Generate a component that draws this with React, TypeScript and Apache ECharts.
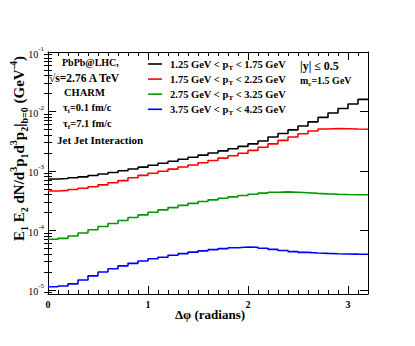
import React, { useEffect, useRef } from "react";
import * as echarts from "echarts";

// ---- data ----
const binEdges = [
  0, 0.1, 0.2, 0.3, 0.4, 0.5, 0.6, 0.7, 0.8, 0.9, 1.0, 1.1, 1.2, 1.3, 1.4, 1.5,
  1.6, 1.7, 1.8, 1.9, 2.0, 2.1, 2.2, 2.3, 2.4, 2.5, 2.6, 2.7, 2.8, 2.9, 3.0, 3.1, 3.2,
];
const ptLow = ["1.25", "1.75", "2.75", "3.75"];
const ptHigh = ["1.75", "2.25", "3.25", "4.25"];
const lineColors = ["#000000", "#ff0000", "#009900", "#0000ff"];

const pt125 = [
  7.31e-4, 7.45e-4, 7.66e-4, 7.94e-4, 8.36e-4, 8.85e-4, 9.42e-4, 1.005e-3, 1.076e-3, 1.156e-3,
  1.245e-3, 1.343e-3, 1.452e-3, 1.57e-3, 1.698e-3, 1.841e-3, 1.995e-3, 2.168e-3, 2.36e-3, 2.582e-3,
  2.851e-3, 3.184e-3, 3.715e-3, 4.246e-3, 4.898e-3, 5.689e-3, 6.683e-3, 7.943e-3, 9.441e-3, 1.122e-2,
  1.334e-2, 1.596e-2,
];
const pt175 = [
  4.58e-4, 4.7e-4, 4.88e-4, 5.11e-4, 5.4e-4, 5.81e-4, 6.31e-4, 6.87e-4, 7.67e-4, 8.41e-4,
  9.12e-4, 9.89e-4, 1.072e-3, 1.161e-3, 1.259e-3, 1.374e-3, 1.5e-3, 1.641e-3, 1.799e-3, 1.986e-3,
  2.213e-3, 2.5e-3, 2.851e-3, 3.258e-3, 3.715e-3, 4.217e-3, 4.699e-3, 5.058e-3, 5.152e-3, 5.129e-3,
  5.058e-3, 5.012e-3,
];
const pt275 = [
  7.08e-5, 7.33e-5, 8.04e-5, 9.02e-5, 1.023e-4, 1.161e-4, 1.303e-4, 1.462e-4, 1.641e-4, 1.82e-4,
  2.018e-4, 2.213e-4, 2.415e-4, 2.63e-4, 2.838e-4, 3.055e-4, 3.258e-4, 3.467e-4, 3.664e-4, 3.864e-4,
  4.055e-4, 4.236e-4, 4.385e-4, 4.446e-4, 4.385e-4, 4.285e-4, 4.188e-4, 4.111e-4, 4.055e-4, 4.009e-4,
  3.981e-4, 3.963e-4,
];
const pt375 = [
  1.125e-5, 1.161e-5, 1.259e-5, 1.462e-5, 1.718e-5, 1.995e-5, 2.265e-5, 2.529e-5, 2.786e-5, 3.055e-5,
  3.327e-5, 3.532e-5, 3.802e-5, 4.055e-5, 4.295e-5, 4.519e-5, 4.732e-5, 4.932e-5, 5.105e-5, 5.236e-5,
  5.212e-5, 5.012e-5, 4.786e-5, 4.571e-5, 4.395e-5, 4.266e-5, 4.169e-5, 4.093e-5, 4.046e-5, 4.009e-5,
  3.981e-5, 3.963e-5,
];
const seriesValues = [pt125, pt175, pt275, pt375];

const xTickValues = [0, 1, 2, 3];
const yTickValues = [1e-5, 1e-4, 1e-3, 1e-2, 1e-1];
const xRange = [0, 3.2];
const yRange = [8.5e-6, 0.1];

// ---- styling ----
const FONT = "'Liberation Serif', 'Times New Roman', serif";

function minorX(): number[] {
  const out: number[] = [];
  for (let k = 1; k < 32; k++) if (k % 10 !== 0) out.push(k / 10);
  return out;
}
function minorY(): number[] {
  const out: number[] = [];
  for (let d = -6; d <= -2; d++)
    for (let m = 2; m <= 9; m++) {
      const v = m * Math.pow(10, d);
      if (v > yRange[0] && v < yRange[1]) out.push(v);
    }
  return out;
}

const sub = (size: number) => ({
  fontSize: size,
  fontFamily: FONT,
  fontWeight: "bold",
  fill: "#000",
  verticalAlign: "bottom",
  lineHeight: size + 2,
});
const sup = (size: number) => ({
  fontSize: size,
  fontFamily: FONT,
  fontWeight: "bold",
  fill: "#000",
  verticalAlign: "top",
  lineHeight: size + 2,
});

function txt(text: string, x: number, y: number, size: number, extra: any = {}) {
  return {
    type: "text",
    x,
    y,
    z: 100,
    style: {
      text,
      fontSize: size,
      fontFamily: FONT,
      fontWeight: "bold",
      fill: "#000",
      align: "left",
      verticalAlign: "middle",
      lineHeight: Math.round(size * 1.4),
      rich: {
        n: { fontSize: size, fontFamily: FONT, fontWeight: "bold", fill: "#000", lineHeight: Math.round(size * 1.4) },
        sb: sub(Math.round(size * 0.65)),
        sp: sup(Math.round(size * 0.65)),
      },
      ...extra,
    },
  };
}

function buildOption() {
  const axisLine = { show: true, onZero: false, lineStyle: { color: "#000", width: 1 } };
  const xBase = { type: "value", min: xRange[0], max: xRange[1], splitLine: { show: false } };
  const yBase = { type: "log", logBase: 10, min: yRange[0], max: yRange[1], splitLine: { show: false } };
  const mx = minorX();
  const my = minorY();

  const xAxes = [
    {
      ...xBase,
      position: "bottom",
      axisLine,
      axisTick: { show: true, inside: true, length: 8, customValues: xTickValues, lineStyle: { color: "#000" } },
      axisLabel: {
        show: true,
        customValues: xTickValues,
        margin: 5,
        color: "#000",
        fontFamily: FONT,
        fontWeight: "bold",
        fontSize: 10,
      },
    },
    {
      ...xBase,
      position: "bottom",
      axisLine: { show: false },
      axisTick: { show: true, inside: true, length: 4, customValues: mx, lineStyle: { color: "#000" } },
      axisLabel: { show: false },
    },
    {
      ...xBase,
      position: "top",
      axisLine,
      axisTick: { show: true, inside: true, length: 8, customValues: xTickValues, lineStyle: { color: "#000" } },
      axisLabel: { show: false },
    },
    {
      ...xBase,
      position: "top",
      axisLine: { show: false },
      axisTick: { show: true, inside: true, length: 4, customValues: mx, lineStyle: { color: "#000" } },
      axisLabel: { show: false },
    },
  ];

  const yAxes = [
    {
      ...yBase,
      position: "left",
      axisLine,
      axisTick: { show: true, inside: true, length: 8, customValues: yTickValues, lineStyle: { color: "#000" } },
      axisLabel: {
        show: true,
        customValues: yTickValues,
        margin: 4,
        formatter: (v: number) => `{b|10}{e|${Math.round(Math.log10(v))}}`,
        rich: {
          b: { fontFamily: FONT, fontSize: 10, color: "#000", lineHeight: 14, verticalAlign: "bottom" },
          e: { fontFamily: FONT, fontSize: 7, color: "#000", lineHeight: 9, verticalAlign: "top" },
        },
      },
    },
    {
      ...yBase,
      position: "left",
      axisLine: { show: false },
      axisTick: { show: true, inside: true, length: 4, customValues: my, lineStyle: { color: "#000" } },
      axisLabel: { show: false },
    },
    {
      ...yBase,
      position: "right",
      axisLine,
      axisTick: { show: true, inside: true, length: 8, customValues: yTickValues, lineStyle: { color: "#000" } },
      axisLabel: { show: false },
    },
    {
      ...yBase,
      position: "right",
      axisLine: { show: false },
      axisTick: { show: true, inside: true, length: 4, customValues: my, lineStyle: { color: "#000" } },
      axisLabel: { show: false },
    },
  ];

  const series = seriesValues.map((vals, i) => ({
    type: "line",
    name: `${ptLow[i]} GeV < pT < ${ptHigh[i]} GeV`,
    xAxisIndex: 0,
    yAxisIndex: 0,
    step: "end",
    symbol: "none",
    showSymbol: false,
    lineStyle: { color: lineColors[i], width: 1.6 },
    itemStyle: { color: lineColors[i] },
    data: binEdges.map((x, k) => [x, vals[Math.min(k, vals.length - 1)]]),
    z: 10 - i,
  }));

  const graphics: any[] = [];
  // legend
  ptLow.forEach((lo, i) => {
    const ly = 64 + 15.1 * i;
    graphics.push({
      type: "line",
      shape: { x1: 148, y1: ly, x2: 162, y2: ly },
      style: { stroke: lineColors[i], lineWidth: 1.6 },
      z: 100,
    });
    graphics.push(txt(`${lo} GeV < p{sb|T} < ${ptHigh[i]} GeV`, 170, ly, 10.5));
  });
  // info texts
  graphics.push(txt("PbPb@LHC,", 62, 62, 10));
  graphics.push(txt("\u221As=2.76 A TeV", 49, 78, 11.5));
  graphics.push(txt("CHARM", 64, 92, 10.5));
  graphics.push(txt("\u03C4{sb|i}=0.1 fm/c", 63, 107, 10.5));
  graphics.push(txt("\u03C4{sb|f}=7.1 fm/c", 63, 123, 10.5));
  graphics.push(txt("Jet Jet Interaction", 57, 140, 11));
  graphics.push(txt("|y| \u2264 0.5", 300, 66, 12));
  graphics.push(txt("m{sb|c}=1.5 GeV", 300, 80, 10));
  // axis titles
  graphics.push(txt("\u0394\u03C6 (radians)", 210, 314, 13, { align: "center" }));
  const yt = txt(
    "E{sb|1} E{sb|2} dN/d{sp|3}p{sb|1}d{sp|3}p{sb|2}|{sb|b=0} (GeV{sp|-4})",
    19,
    56,
    15,
    { align: "right" }
  );
  (yt as any).rotation = Math.PI / 2;
  graphics.push(yt);

  return {
    animation: false,
    backgroundColor: "#ffffff",
    grid: { left: 48, right: 47, top: 52, bottom: 52, containLabel: false },
    xAxis: xAxes,
    yAxis: yAxes,
    series,
    graphic: graphics,
  };
}

export default function App() {
  const ref = useRef<HTMLDivElement>(null);
  useEffect(() => {
    if (!ref.current) return;
    const chart = echarts.init(ref.current, null, { renderer: "svg" });
    chart.setOption(buildOption() as any);
    return () => chart.dispose();
  }, []);
  return (
    <div
      ref={ref}
      style={{ position: "fixed", left: 0, top: 0, width: 415, height: 346, background: "#fff" }}
    />
  );
}
